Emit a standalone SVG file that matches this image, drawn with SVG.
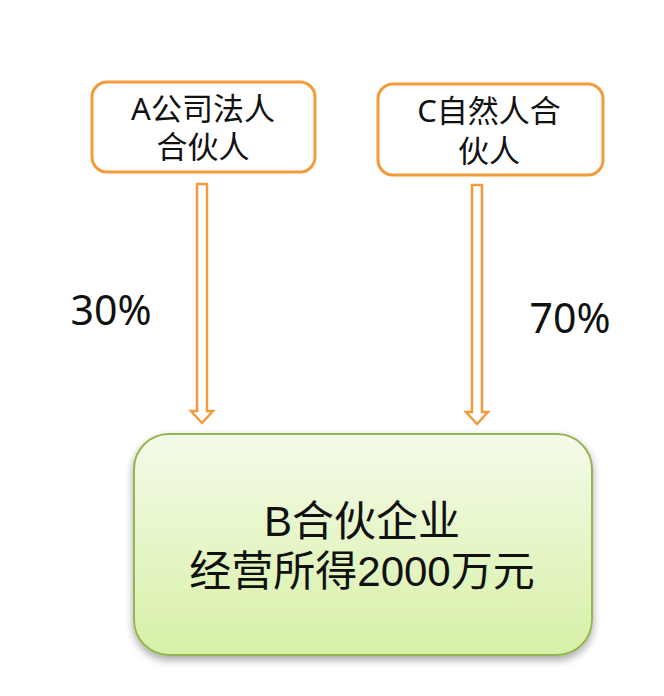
<svg xmlns="http://www.w3.org/2000/svg" width="664" height="696" viewBox="0 0 664 696">
<defs>
<linearGradient id="gB" x1="0" y1="0" x2="0" y2="1">
<stop offset="0" stop-color="#f4fbe9"/>
<stop offset="1" stop-color="#d7f0a6"/>
</linearGradient>
<filter id="sh" x="-10%" y="-10%" width="120%" height="125%">
<feGaussianBlur in="SourceAlpha" stdDeviation="4"/>
<feOffset dx="0" dy="4"/>
<feComponentTransfer><feFuncA type="linear" slope="0.35"/></feComponentTransfer>
<feMerge><feMergeNode/><feMergeNode in="SourceGraphic"/></feMerge>
</filter>
</defs>
<style>
.t{font-family:"Noto Sans","Noto Sans CJK SC",sans-serif;fill:#111;text-anchor:middle}
.tb{font-family:"Liberation Sans","Noto Sans CJK SC",sans-serif;fill:#111;text-anchor:middle}
.ob{fill:#fff;stroke:#f39a3b;stroke-width:3}
.ar{fill:#fff;stroke:#f39a3b;stroke-width:2.5;stroke-linejoin:miter}
</style>
<rect width="664" height="696" fill="#fff"/>
<g id="connectors">
<path class="ar" d="M197,184 H207 V411 H213 L202,423 L191,411 H197 Z"/>
<path class="ar" d="M472,185 H482 V412 H488 L477,424 L466,412 H472 Z"/>
</g>
<g id="nodeA">
<rect class="ob" x="92" y="82" width="223" height="90" rx="15"/>
<text class="t" x="203" y="120" font-size="31">A公司法人</text>
<text class="t" x="203" y="158" font-size="31">合伙人</text>
</g>
<g id="nodeC">
<rect class="ob" x="378" y="84" width="225" height="91" rx="15"/>
<text class="t" x="489" y="122" font-size="31">C自然人合</text>
<text class="t" x="489" y="162" font-size="31">伙人</text>
</g>
<g id="label30">
<text class="t" x="111" y="325" font-size="41">30%</text>
</g>
<g id="label70">
<text class="t" x="570" y="333" font-size="41">70%</text>
</g>
<g id="nodeB">
<rect x="134" y="434" width="458" height="221" rx="35" fill="url(#gB)" stroke="#94b552" stroke-width="2" filter="url(#sh)"/>
<text class="tb" x="362" y="536" font-size="42">B合伙企业</text>
<text class="tb" x="362" y="586" font-size="42">经营所得2000万元</text>
</g>
</svg>
